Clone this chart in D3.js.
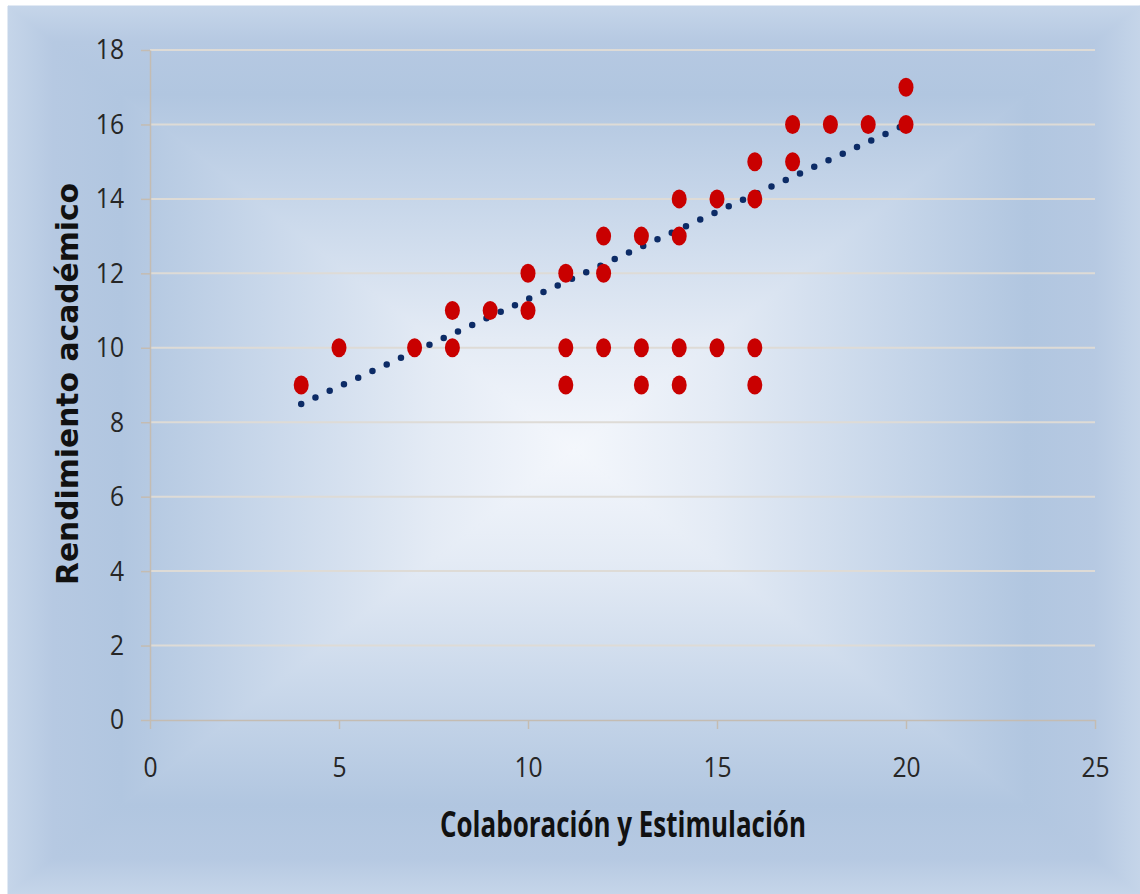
<!DOCTYPE html>
<html>
<head>
<meta charset="utf-8">
<script src="https://cdn.jsdelivr.net/npm/d3@7"></script>
<style>
    body { margin: 0; background: #fff; }
</style>
</head>
<body>
<div class="viz"></div>
<script>
const w = 1140;
const h = 894;

// data
const colaboracion = [4, 5, 7, 8, 8, 9, 10, 10, 11, 11, 11, 12, 12, 12, 13, 13, 13,
    14, 14, 14, 14, 15, 15, 16, 16, 16, 16, 17, 17, 18, 19, 20, 20];
const rendimiento = [9, 10, 10, 11, 10, 11, 12, 11, 12, 10, 9, 13, 12, 10, 13, 10, 9,
    14, 13, 10, 9, 14, 10, 15, 14, 10, 9, 16, 15, 16, 16, 17, 16];
const trendX = [4, 20];
const trendY = [8.49, 16.0];
const xTicks = [0, 5, 10, 15, 20, 25];
const yTicks = [0, 2, 4, 6, 8, 10, 12, 14, 16, 18];

const svg = d3.select(".viz")
    .append("svg")
    .attr("width", w)
    .attr("height", h);

// rectangular "from centre" background: four triangles, each with a linear gradient
const bx0 = 8, by0 = 6, bx1 = w, by1 = h;
const cx = (bx0 + bx1) / 2, cy = (by0 + by1) / 2;
const stops = [[0, "#f4f7fc"], [0.25, "#e4ebf5"], [0.55, "#c8d7ea"], [0.8, "#b1c6e0"], [0.92, "#b6c9e2"], [1, "#c5d5e9"]];
const sides = [
    { id: "bgT", pts: [[bx0, by0], [bx1, by0], [cx, cy]], end: [cx, by0] },
    { id: "bgB", pts: [[bx0, by1], [bx1, by1], [cx, cy]], end: [cx, by1] },
    { id: "bgL", pts: [[bx0, by0], [bx0, by1], [cx, cy]], end: [bx0, cy] },
    { id: "bgR", pts: [[bx1, by0], [bx1, by1], [cx, cy]], end: [bx1, cy] }
];
const defs = svg.append("defs");
sides.forEach(function (s) {
    const g = defs.append("linearGradient")
        .attr("id", s.id)
        .attr("gradientUnits", "userSpaceOnUse")
        .attr("x1", cx).attr("y1", cy)
        .attr("x2", s.end[0]).attr("y2", s.end[1]);
    stops.forEach(st => g.append("stop").attr("offset", st[0]).attr("stop-color", st[1]));
});
svg.append("rect")
    .attr("x", bx0).attr("y", by0)
    .attr("width", bx1 - bx0).attr("height", by1 - by0)
    .attr("fill", "#c6d5e9");
svg.append("g")
    .selectAll("path")
    .data(sides)
    .enter()
    .append("path")
    .attr("d", d => "M" + d.pts.join("L") + "Z")
    .style("fill", d => `url(#${d.id})`)
    .style("stroke", d => `url(#${d.id})`)
    .style("stroke-width", 1);

const x = d3.scaleLinear().domain([0, 25]).range([150, 1095]);
const y = d3.scaleLinear().domain([0, 18]).range([720, 50]);

// gridlines
svg.append("g")
    .selectAll("line")
    .data(yTicks.slice(1))
    .enter()
    .append("line")
    .attr("x1", x(0)).attr("x2", x(25))
    .attr("y1", d => y(d)).attr("y2", d => y(d))
    .style("stroke", "#dedbd6")
    .style("stroke-width", 2);

const narrow = function (sel, k) {
    sel.each(function () {
        this.setAttribute("textLength", this.getComputedTextLength() * k);
        this.setAttribute("lengthAdjust", "spacingAndGlyphs");
    });
};

const xAxis = svg.append("g")
    .attr("transform", `translate(0,${y(0)})`)
    .call(d3.axisBottom(x).tickValues(xTicks).tickSize(9).tickSizeOuter(0).tickPadding(28));

const yAxis = svg.append("g")
    .attr("transform", `translate(${x(0)},0)`)
    .call(d3.axisLeft(y).tickValues(yTicks).tickSize(9).tickSizeOuter(0).tickPadding(17));

[xAxis, yAxis].forEach(function (g) {
    g.selectAll("path, line").style("stroke", "#c4bcb2").style("stroke-width", 1.5);
    g.selectAll("text")
        .style("font-family", "'Open Sans', sans-serif")
        .style("font-size", "28px")
        .style("fill", "#262626")
        .call(narrow, 0.88);
});

// trendline
svg.append("path")
    .datum(trendX.map((d, i) => [d, trendY[i]]))
    .attr("d", d3.line().x(d => x(d[0])).y(d => y(d[1])))
    .style("fill", "none")
    .style("stroke", "#0c2b66")
    .style("stroke-width", 6.5)
    .style("stroke-linecap", "round")
    .style("stroke-dasharray", "0 15.7");

// points
svg.selectAll("ellipse")
    .data(colaboracion.map((d, i) => ({ c: d, r: rendimiento[i] })))
    .enter()
    .append("ellipse")
    .attr("cx", d => x(d.c))
    .attr("cy", d => y(d.r))
    .attr("rx", 7.5)
    .attr("ry", 9.5)
    .style("fill", "#c90000");

// axis titles
svg.append("text")
    .attr("x", 623)
    .attr("y", 837)
    .attr("text-anchor", "middle")
    .attr("textLength", 366)
    .attr("lengthAdjust", "spacingAndGlyphs")
    .style("font-family", "'Open Sans', sans-serif")
    .style("font-weight", "bold")
    .style("font-size", "35px")
    .style("fill", "#111")
    .text("Colaboración y Estimulación");

svg.append("text")
    .attr("transform", "translate(78,384) rotate(-90)")
    .attr("text-anchor", "middle")
    .attr("textLength", 402)
    .attr("lengthAdjust", "spacingAndGlyphs")
    .style("font-family", "'DejaVu Sans', sans-serif")
    .style("font-weight", "bold")
    .style("font-size", "30px")
    .style("fill", "#111")
    .text("Rendimiento académico");
</script>
</body>
</html>
